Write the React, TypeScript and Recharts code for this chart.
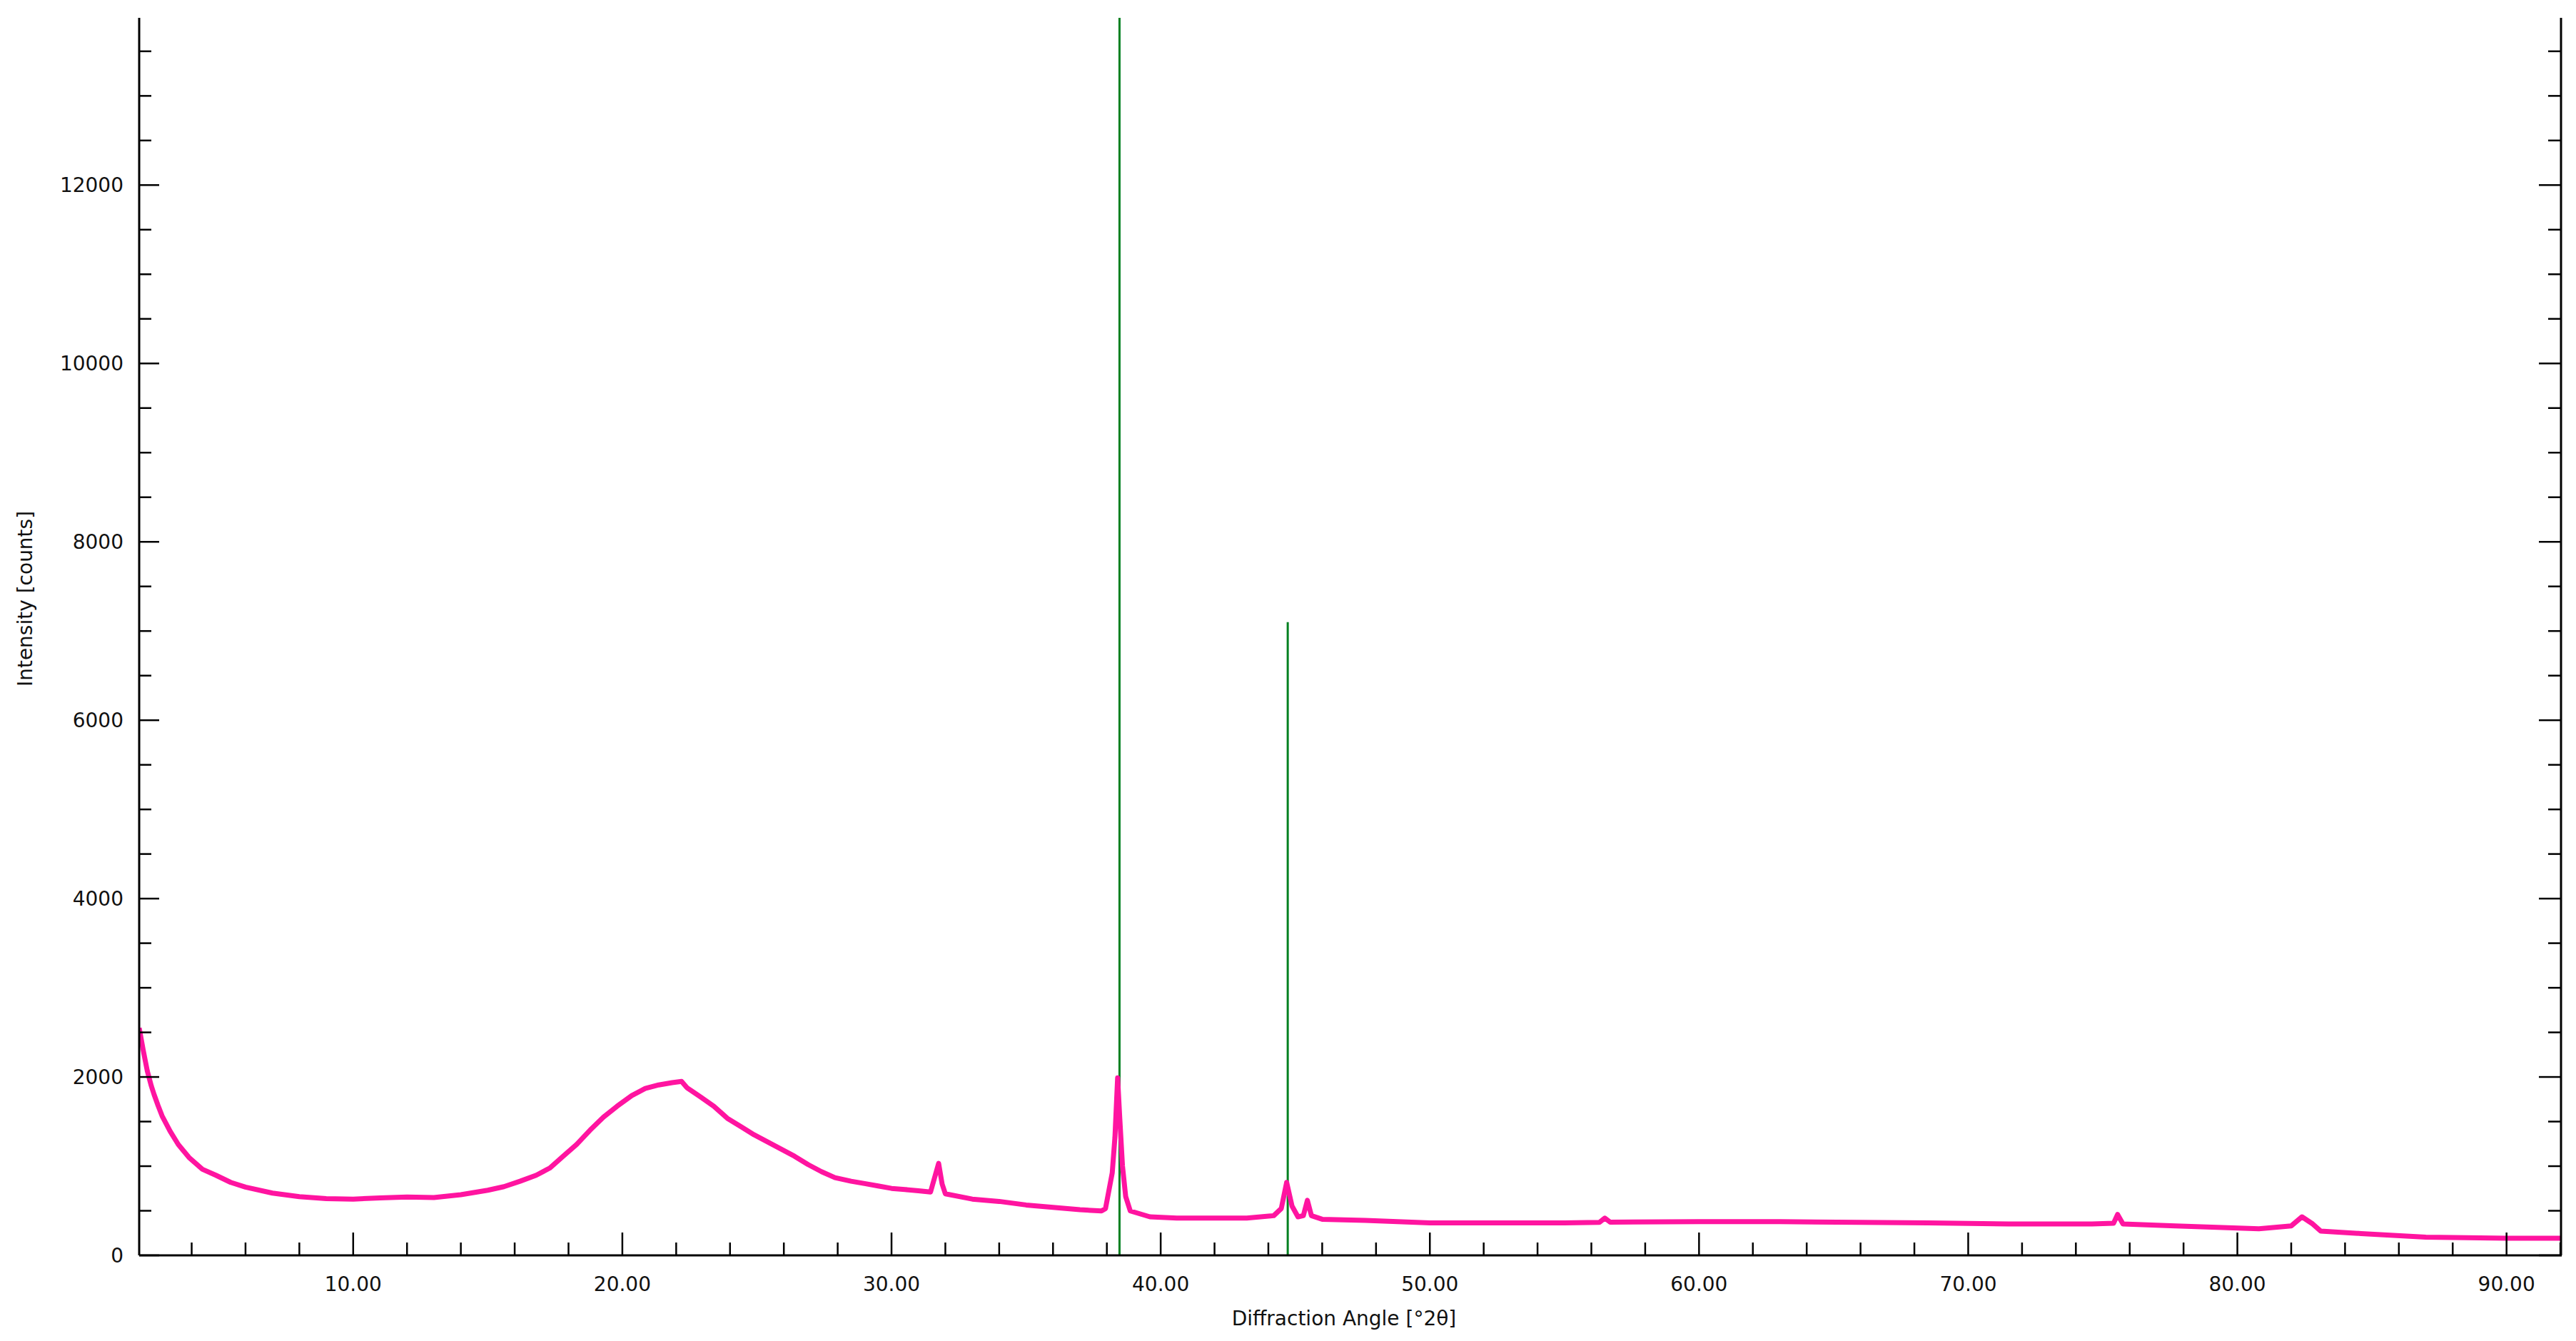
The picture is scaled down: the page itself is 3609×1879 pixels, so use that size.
import { LineChart, Line, XAxis, YAxis, Label } from "recharts";

// scan
const twoTheta = [
  2.05, 2.2, 2.35, 2.5, 2.6, 2.75, 2.9, 3.2, 3.5, 3.9, 4.4, 4.9, 5.45, 6.0,
  7.0, 8.0, 9.0, 10.0, 11.0, 12.0, 13.0, 14.0, 15.0, 15.6, 16.2, 16.8, 17.3,
  17.8, 18.3, 18.8, 19.3, 19.8, 20.35, 20.85, 21.35, 21.85, 22.2, 22.4, 22.9,
  23.4, 23.9, 24.4, 24.9, 25.4, 25.9, 26.4, 26.9, 27.4, 27.9, 28.5, 29.0,
  29.5, 30.0, 30.5, 31.0, 31.45, 31.6, 31.75, 31.88, 32.0, 33.0, 34.0, 35.0,
  36.0, 37.0, 37.8, 37.95, 38.2, 38.3, 38.4, 38.48, 38.58, 38.7, 38.87, 39.6,
  40.6, 42.0, 43.2, 44.2, 44.48, 44.68, 44.88, 45.1, 45.3, 45.45, 45.6, 46.0,
  47.6, 50.0, 52.0, 55.0, 56.3, 56.5, 56.7, 60.0, 63.0, 66.0, 68.5, 71.5,
  74.6, 75.4, 75.55, 75.75, 77.7, 80.8, 82.0, 82.4, 82.8, 83.1, 84.6, 87.0,
  90.0, 92.05,
];
const intensity = [
  2550, 2300, 2070, 1900, 1806, 1680, 1564, 1391, 1244, 1098, 965, 898, 818, 765,
  698, 658, 637, 631, 645, 655, 648, 680, 730, 770, 831, 898, 978,
  1111, 1244, 1404, 1551, 1671, 1791, 1871, 1911, 1937, 1950, 1880, 1777,
  1671, 1537, 1444, 1351, 1271, 1191, 1111, 1018, 938, 871, 831, 805,
  778, 751, 738, 725, 711, 871, 1031, 800, 690, 631, 605, 565,
  538, 512, 498, 525, 925, 1324, 1990, 1537, 1004, 659, 498, 432,
  418, 418, 418, 445, 525, 818, 552, 432, 445, 618, 445, 405,
  392, 365, 365, 365, 370, 418, 372, 378, 378, 370, 365, 352,
  352, 360, 458, 352, 330, 298, 330, 432, 352, 272, 245, 205,
  192, 192,
];

// reference pattern sticks (green)
const refAngles = [38.47, 44.72];
const refHeights = [15000, 7100];

const xLabelTicks = [10, 20, 30, 40, 50, 60, 70, 80, 90];
const xMinorTicks = [
  4, 6, 8, 12, 14, 16, 18, 22, 24, 26, 28, 32, 34, 36, 38, 42, 44, 46, 48, 52,
  54, 56, 58, 62, 64, 66, 68, 72, 74, 76, 78, 82, 84, 86, 88, 92,
];
const yLabelTicks = [0, 2000, 4000, 6000, 8000, 10000, 12000];
const yMinorTicks = [
  500, 1000, 1500, 2500, 3000, 3500, 4500, 5000, 5500, 6500, 7000, 7500, 8500,
  9000, 9500, 10500, 11000, 11500, 12500, 13000, 13500,
];

const X_DOMAIN: [number, number] = [2.05, 92.05];
const Y_DOMAIN: [number, number] = [0, 13875];

const font = { fontFamily: "DejaVu Sans", fontSize: 28, fill: "#111" };
const tickStroke = { stroke: "#000", strokeWidth: 2.5 };
const noLabel = () => <g />;

const scan = twoTheta.map((x, i) => ({ x, y: intensity[i] }));
const sticks = refAngles.map((x, i) => [
  { x, y: 0 },
  { x, y: refHeights[i] },
]);

export default function App() {
  return (
    <div style={{ position: "absolute", left: 0, top: 0, background: "#fff" }}>
      <LineChart
        width={3609}
        height={1879}
        margin={{ top: 25, right: 20, left: 0, bottom: 0 }}
      >
        <XAxis
          xAxisId="main"
          type="number"
          dataKey="x"
          domain={X_DOMAIN}
          allowDataOverflow
          ticks={xLabelTicks}
          interval={0}
          tickFormatter={(v: number) => v.toFixed(2)}
          tickLine={false}
          tickSize={0}
          tickMargin={30}
          tick={font}
          axisLine={{ stroke: "#000", strokeWidth: 3 }}
          height={120}
        >
          <Label
            content={({ viewBox }: any) => (
              <text
                x={viewBox.x + viewBox.width / 2 - 9}
                y={viewBox.y + 88}
                textAnchor="middle"
                dominantBaseline="central"
                {...font}
              >
                Diffraction Angle [°2θ]
              </text>
            )}
          />
        </XAxis>
        <XAxis
          xAxisId="minor"
          type="number"
          dataKey="x"
          mirror
          height={1}
          domain={X_DOMAIN}
          allowDataOverflow
          ticks={xMinorTicks}
          interval={0}
          tick={noLabel}
          tickSize={17}
          tickLine={tickStroke}
          axisLine={false}
        />
        <XAxis
          xAxisId="major"
          type="number"
          dataKey="x"
          mirror
          height={1}
          domain={X_DOMAIN}
          allowDataOverflow
          ticks={xLabelTicks}
          interval={0}
          tick={noLabel}
          tickSize={32}
          tickLine={tickStroke}
          axisLine={false}
        />

        <YAxis
          yAxisId="main"
          type="number"
          domain={Y_DOMAIN}
          allowDataOverflow
          ticks={yLabelTicks}
          interval={0}
          tickLine={false}
          tickSize={0}
          tickMargin={22}
          tick={font}
          axisLine={{ stroke: "#000", strokeWidth: 3 }}
          width={195}
        >
          <Label
            content={({ viewBox }: any) => {
              const cx = viewBox.x + 35;
              const cy = viewBox.y + viewBox.height / 2 - 53;
              return (
                <text
                  x={cx}
                  y={cy}
                  transform={`rotate(-90 ${cx} ${cy})`}
                  textAnchor="middle"
                  dominantBaseline="central"
                  {...font}
                >
                  Intensity [counts]
                </text>
              );
            }}
          />
        </YAxis>
        <YAxis
          yAxisId="minorL"
          type="number"
          mirror
          width={1}
          domain={Y_DOMAIN}
          allowDataOverflow
          ticks={yMinorTicks}
          interval={0}
          tick={noLabel}
          tickSize={16}
          tickLine={tickStroke}
          axisLine={false}
        />
        <YAxis
          yAxisId="majorL"
          type="number"
          mirror
          width={1}
          domain={Y_DOMAIN}
          allowDataOverflow
          ticks={yLabelTicks}
          interval={0}
          tick={noLabel}
          tickSize={28}
          tickLine={tickStroke}
          axisLine={false}
        />
        <YAxis
          yAxisId="minorR"
          orientation="right"
          type="number"
          mirror
          width={1}
          domain={Y_DOMAIN}
          allowDataOverflow
          ticks={yMinorTicks}
          interval={0}
          tick={noLabel}
          tickSize={18}
          tickLine={tickStroke}
          axisLine={{ stroke: "#000", strokeWidth: 3 }}
        />
        <YAxis
          yAxisId="majorR"
          orientation="right"
          type="number"
          mirror
          width={1}
          domain={Y_DOMAIN}
          allowDataOverflow
          ticks={yLabelTicks}
          interval={0}
          tick={noLabel}
          tickSize={32}
          tickLine={tickStroke}
          axisLine={false}
        />

        {sticks.map((d, i) => (
          <Line
            key={`stick-${i}`}
            data={d}
            xAxisId="main"
            yAxisId="main"
            dataKey="y"
            type="linear"
            stroke="#008020"
            strokeWidth={3}
            dot={false}
            activeDot={false}
            isAnimationActive={false}
          />
        ))}
        <Line
          data={scan}
          xAxisId="main"
          yAxisId="main"
          dataKey="y"
          type="linear"
          stroke="#ff14a0"
          strokeWidth={7}
          strokeLinejoin="round"
          dot={false}
          activeDot={false}
          isAnimationActive={false}
        />
      </LineChart>
    </div>
  );
}
